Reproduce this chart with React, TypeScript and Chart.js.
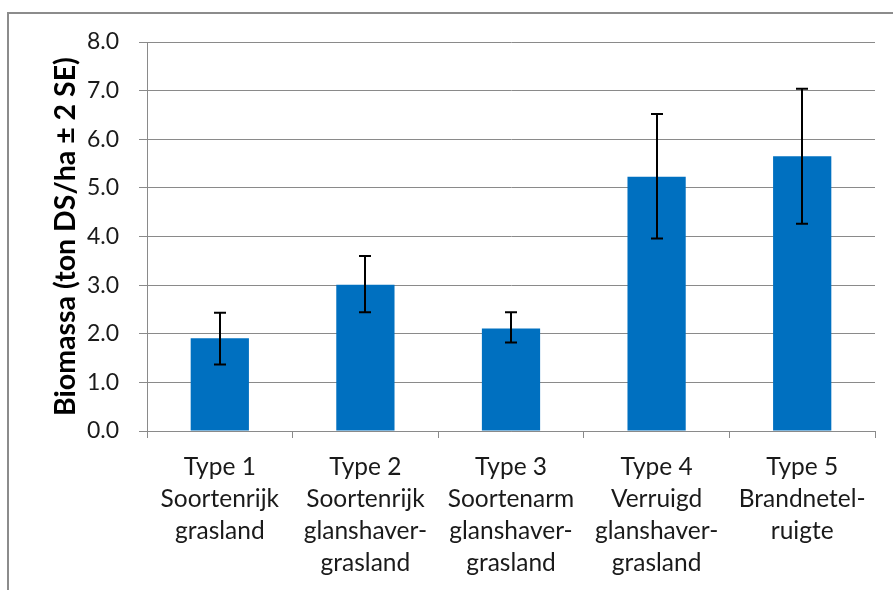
import React, { useEffect, useRef } from "react";
import { Chart, registerables } from "chart.js";

Chart.register(...registerables);

const categories: string[][] = [
  ["Type 1", "Soortenrijk", "grasland"],
  ["Type 2", "Soortenrijk", "glanshaver-", "grasland"],
  ["Type 3", "Soortenarm", "glanshaver-", "grasland"],
  ["Type 4", "Verruigd", "glanshaver-", "grasland"],
  ["Type 5", "Brandnetel-", "ruigte"],
];
const biomass = [1.91, 3.01, 2.11, 5.23, 5.65];
const errLow = [1.37, 2.44, 1.82, 3.96, 4.26];
const errHigh = [2.43, 3.6, 2.44, 6.52, 7.04];
const yMin = 0;
const yMax = 8;
const yStep = 1;
const yTitle = "Biomassa (ton DS/ha ± 2 SE)";

const FONT = "Lato, 'Open Sans', sans-serif";

const errorBarPlugin = {
  id: "errorBars",
  afterDatasetsDraw(chart: any) {
    const ctx = chart.ctx;
    const meta = chart.getDatasetMeta(0);
    const y = chart.scales.y;
    ctx.save();
    ctx.strokeStyle = "#000";
    ctx.lineWidth = 2;
    meta.data.forEach((bar: any, i: number) => {
      const x = Math.round(bar.x);
      const yTop = y.getPixelForValue(errHigh[i]);
      const yBot = y.getPixelForValue(errLow[i]);
      ctx.beginPath();
      ctx.moveTo(x, yTop);
      ctx.lineTo(x, yBot);
      ctx.moveTo(x - 6, yTop);
      ctx.lineTo(x + 6, yTop);
      ctx.moveTo(x - 6, yBot);
      ctx.lineTo(x + 6, yBot);
      ctx.stroke();
    });
    ctx.restore();
  },
};

export default function App() {
  const ref = useRef<HTMLCanvasElement>(null);
  useEffect(() => {
    document.body.style.margin = "0";
    const chart = new Chart(ref.current as HTMLCanvasElement, {
      type: "bar",
      data: {
        labels: categories,
        datasets: [
          {
            data: biomass,
            backgroundColor: "#0070C0",
            borderWidth: 0,
            categoryPercentage: 1,
            barPercentage: 0.4,
          },
        ],
      },
      options: {
        animation: false,
        responsive: false,
        devicePixelRatio: 1,
        layout: { padding: { left: 0, top: 42, right: 18, bottom: 0 } },
        plugins: { legend: { display: false }, tooltip: { enabled: false } },
        scales: {
          x: {
            offset: true,
            grid: {
              offset: true,
              drawOnChartArea: false,
              drawTicks: true,
              tickLength: 7,
              color: "#8a8a8a",
              lineWidth: 1,
            },
            border: { display: true, color: "#8a8a8a", width: 1 },
            ticks: {
              color: "#1a1a1a",
              padding: 13,
              maxRotation: 0,
              autoSkip: false,
              font: { family: FONT, size: 24.5, lineHeight: "32px" },
            },
            afterFit: (s: any) => {
              s.height = 590 - 431;
            },
          },
          y: {
            min: yMin,
            max: yMax,
            grid: {
              color: "#8a8a8a",
              lineWidth: 1,
              drawTicks: true,
              tickLength: 8,
            },
            border: { display: true, color: "#8a8a8a", width: 1 },
            ticks: {
              stepSize: yStep,
              color: "#1a1a1a",
              padding: 20,
              font: { family: FONT, size: 23 },
              callback: (v: any) => Number(v).toFixed(1),
            },
            title: {
              display: true,
              text: yTitle,
              color: "#000",
              font: { family: FONT, size: 28.5, weight: "bold", lineHeight: 1.2 },
              padding: { top: 49, bottom: 0 },
            },
            afterFit: (s: any) => {
              s.width = 147;
            },
          },
        },
      },
      plugins: [errorBarPlugin],
    });
    return () => chart.destroy();
  }, []);

  return (
    <div style={{ position: "relative", width: 893, height: 590, overflow: "hidden", background: "#fff" }}>
      <div
        style={{
          position: "absolute",
          left: 7,
          top: 12,
          width: 1000,
          height: 1000,
          borderLeft: "2px solid #8c8c8c",
          borderTop: "2px solid #8c8c8c",
        }}
      />
      <canvas ref={ref} width={893} height={590} style={{ position: "absolute", left: 0, top: 0 }} />
    </div>
  );
}
